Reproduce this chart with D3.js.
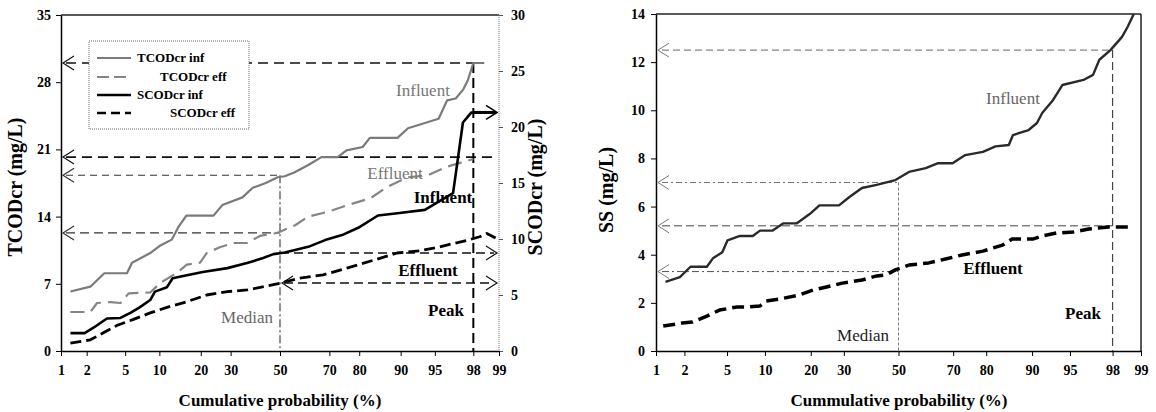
<!DOCTYPE html>
<html>
<head>
<meta charset="utf-8">
<script src="https://cdn.jsdelivr.net/npm/d3@7"></script>
<style>
  body { margin: 0; background: #fff; }
  text { font-family: "Liberation Serif", "Times New Roman", serif; }
  .tick text { font-size: 14px; font-weight: bold; }
</style>
</head>
<body>
<script>
// ---- data (cumulative probability in %, values in mg/L) ----
var probTicks = [1, 2, 5, 10, 20, 30, 50, 70, 80, 90, 95, 98, 99];
var tcodTicks = [0, 7, 14, 21, 28, 35];
var scodTicks = [0, 5, 10, 15, 20, 25, 30];
var ssTicks = [0, 2, 4, 6, 8, 10, 12, 14];

var tcodInfP = [1.3, 2.2, 3.1, 5.2, 5.8, 8.4, 10.2, 12.5, 14, 16, 24, 27, 34.5, 38.6, 44, 49, 52, 56, 62, 67, 73, 76, 81, 83, 89.4, 91.3, 95.4, 96.2, 96.9, 97.4, 97.7, 98.0, 98.5];
var tcodInfV = [6.2, 6.7, 8.1, 8.1, 9.2, 10.2, 11.0, 11.6, 12.9, 14.1, 14.1, 15.2, 16.0, 17.0, 17.5, 18.1, 18.2, 18.6, 19.4, 20.2, 20.2, 20.9, 21.25, 22.2, 22.2, 23.2, 24.2, 26.1, 26.3, 27.2, 28.2, 30, 30];

var tcodEffP = [1.3, 2.2, 2.6, 3.6, 4.5, 5.4, 8.4, 10.2, 12.1, 13.8, 16.1, 19.8, 21.8, 26.1, 30.9, 36.3, 41.7, 48.8, 56.4, 61.8, 69.5, 76.4, 83.1, 87.3, 91.3, 94.2, 96.2, 98.0];
var tcodEffV = [4.06, 4.06, 5.0, 5.1, 5.0, 6.0, 6.1, 7.1, 7.7, 8.2, 9.0, 9.2, 10.2, 10.8, 11.25, 11.25, 12.0, 12.3, 13.1, 14.0, 14.5, 15.2, 15.9, 17.1, 18.1, 18.3, 19.2, 20.0];

var scodInfP = [1.3, 1.9, 2.4, 3.3, 4.5, 5.6, 6.8, 8.4, 9.2, 11.5, 12.7, 15.2, 20.6, 28.8, 36.3, 42.9, 47.2, 52, 61.8, 68.4, 74.5, 79.7, 85.1, 89.4, 93.8, 95.7, 96.7, 97.4, 97.9, 98.6];
var scodInfV = [1.6, 1.6, 2.1, 2.9, 2.95, 3.4, 3.9, 4.55, 5.3, 5.7, 6.5, 6.7, 7.05, 7.4, 7.85, 8.3, 8.65, 8.8, 9.3, 9.9, 10.35, 11.0, 12.1, 12.3, 12.6, 13.5, 14.1, 20.4, 21.3, 21.3];

var scodEffP = [1.3, 2.2, 3.0, 4.2, 5.9, 8.4, 11.5, 16.1, 21.8, 28.8, 36.3, 44.4, 50, 58.3, 67.7, 76.1, 83.9, 89.3, 93.2, 95.5, 97.7, 98.3, 98.6, 98.9];
var scodEffV = [0.7, 1.0, 1.6, 2.3, 2.8, 3.4, 3.9, 4.4, 5.0, 5.3, 5.45, 5.8, 6.05, 6.5, 6.8, 7.4, 8.1, 8.75, 8.95, 9.3, 9.9, 10.2, 10.5, 10.1];

var ssInfP = [1.27, 1.8, 2.3, 3.3, 3.75, 4.55, 5.05, 6.4, 8.1, 9.2, 11.3, 13.4, 16.4, 19.8, 22.4, 28.4, 31.9, 36.3, 41.7, 48.8, 54, 60.3, 64.8, 69.8, 73.9, 79.1, 82.4, 85.5, 86.4, 89.4, 90.8, 91.6, 93.1, 94.2, 96.2, 96.9, 97.3, 97.9, 98.4, 98.6, 98.8];
var ssInfV = [2.87, 3.07, 3.5, 3.5, 3.85, 4.1, 4.6, 4.78, 4.78, 5.0, 5.0, 5.3, 5.3, 5.7, 6.05, 6.05, 6.4, 6.77, 6.9, 7.1, 7.44, 7.6, 7.8, 7.8, 8.14, 8.27, 8.5, 8.56, 8.97, 9.18, 9.47, 9.89, 10.43, 11.05, 11.26, 11.47, 12.1, 12.5, 13.05, 13.46, 14.0];

var ssEffP = [1.2, 1.9, 2.4, 3.3, 4.3, 6.1, 7.2, 9.2, 10.2, 12.7, 17.1, 20.6, 24.5, 29.5, 36.3, 41.7, 45.2, 48.8, 54, 61.4, 67.4, 72.9, 79.1, 84.1, 86.2, 90.1, 91.6, 93.5, 95.3, 96.6, 97.8, 98.7];
var ssEffV = [1.04, 1.16, 1.2, 1.45, 1.7, 1.83, 1.83, 1.87, 2.08, 2.16, 2.33, 2.53, 2.66, 2.82, 2.95, 3.12, 3.16, 3.37, 3.57, 3.66, 3.82, 3.99, 4.15, 4.4, 4.65, 4.65, 4.78, 4.9, 4.94, 5.07, 5.15, 5.15];

// median / peak reading values
var tcodMarks = [30, 20.2, 18.3, 12.3];   // peak inf, peak eff, median inf, median eff
var scodMarks = [21.3, 8.75, 6.07];       // peak inf, median inf, median eff
var ssMarks = [12.5, 7.0, 5.2, 3.3];      // peak inf, median inf, peak eff, median eff

// inverse normal cdf (Acklam)
function probit(p) {
  var a = [-39.69683028665376, 220.9460984245205, -275.9285104469687, 138.3577518672690, -30.66479806614716, 2.506628277459239];
  var b = [-54.47609879822406, 161.5858368580409, -155.6989798598866, 66.80131188771972, -13.28068155288572];
  var c = [-0.007784894002430293, -0.3223964580411365, -2.400758277161838, -2.549732539343734, 4.374664141464968, 2.938163982698783];
  var d = [0.007784695709041462, 0.3224671290700398, 2.445134137142996, 3.754408661907416];
  var q, r;
  if (p < 0.02425) {
    q = Math.sqrt(-2 * Math.log(p));
    return (((((c[0]*q+c[1])*q+c[2])*q+c[3])*q+c[4])*q+c[5]) / ((((d[0]*q+d[1])*q+d[2])*q+d[3])*q+1);
  }
  if (p > 1 - 0.02425) {
    q = Math.sqrt(-2 * Math.log(1 - p));
    return -(((((c[0]*q+c[1])*q+c[2])*q+c[3])*q+c[4])*q+c[5]) / ((((d[0]*q+d[1])*q+d[2])*q+d[3])*q+1);
  }
  q = p - 0.5; r = q * q;
  return (((((a[0]*r+a[1])*r+a[2])*r+a[3])*r+a[4])*r+a[5])*q / (((((b[0]*r+b[1])*r+b[2])*r+b[3])*r+b[4])*r+1);
}

var svg = d3.select("body").append("svg").attr("width", 1156).attr("height", 412);

function zip(P, V) { return P.map(function (p, i) { return [p, V[i]]; }); }

function label(x, y, txt, size, weight, fill, anchor) {
  return svg.append("text").attr("x", x).attr("y", y)
    .attr("text-anchor", anchor || "middle")
    .style("font-size", size + "px").style("font-weight", weight)
    .style("fill", fill).text(txt);
}

// little open arrow head "<" or ">" at (x,y)
function arrowHead(x, y, dir, color, w) {
  var len = 11, dy = 7;
  svg.append("path")
    .attr("d", "M" + (x + dir * len) + "," + (y - dy) + "L" + x + "," + y + "L" + (x + dir * len) + "," + (y + dy))
    .attr("fill", "none").attr("stroke", color).attr("stroke-width", w);
}

function hline(x1, x2, y, color, w, dash) {
  svg.append("line").attr("x1", x1).attr("x2", x2).attr("y1", y).attr("y2", y)
    .attr("stroke", color).attr("stroke-width", w).attr("stroke-dasharray", dash);
}
function vline(x, y1, y2, color, w, dash) {
  svg.append("line").attr("x1", x).attr("x2", x).attr("y1", y1).attr("y2", y2)
    .attr("stroke", color).attr("stroke-width", w).attr("stroke-dasharray", dash);
}

function xAxis(x, y0) {
  var g = svg.append("g").attr("transform", "translate(0," + y0 + ")")
    .call(d3.axisBottom(x).tickValues(probTicks.map(function (p) { return probit(p / 100); }))
      .tickFormat(function (d, i) { return probTicks[i]; }).tickSize(5).tickSizeOuter(0).tickPadding(9));
  g.select(".domain").attr("stroke", "#000").attr("stroke-width", 1.5);
  g.selectAll(".tick text").style("fill", "#000");
  return g;
}

function series(x, y, P, V, color, w, dash) {
  var line = d3.line().x(function (d) { return x(probit(d[0] / 100)); }).y(function (d) { return y(d[1]); });
  svg.append("path").datum(zip(P, V)).attr("d", line)
    .attr("fill", "none").attr("stroke", color).attr("stroke-width", w)
    .attr("stroke-dasharray", dash).attr("stroke-linejoin", "round");
}

// ================= left panel =================
var xL = d3.scaleLinear().domain([probit(0.01), probit(0.99)]).range([61, 499]);
var yT = d3.scaleLinear().domain([0, 35]).range([351, 15]);
var yS = d3.scaleLinear().domain([0, 30]).range([351, 15]);
var pL = function (p) { return xL(probit(p / 100)); };

// frame
hline(61, 499, 15, "#222", 1.5, null);
vline(499, 15, 351, "#777", 1, "1,1");

var gl = svg.append("g").attr("transform", "translate(61,0)")
  .call(d3.axisLeft(yT).tickValues(tcodTicks).tickSize(5).tickSizeOuter(0).tickPadding(5));
gl.select(".domain").attr("stroke", "#000").attr("stroke-width", 1.5);
var gr = svg.append("g").attr("transform", "translate(499,0)")
  .call(d3.axisRight(yS).tickValues(scodTicks).tickSize(4).tickSizeOuter(0).tickPadding(8));
gr.select(".domain").remove();
gr.selectAll(".tick line").attr("stroke", "#555");
xAxis(xL, 351);

// reference lines
hline(66, pL(98), yT(tcodMarks[0]), "#111", 1.6, "10,6");
arrowHead(63, yT(tcodMarks[0]), 1, "#111", 1.2);
hline(66, pL(98.8), yT(tcodMarks[1]), "#111", 1.6, "10,6");
arrowHead(63, yT(tcodMarks[1]), 1, "#111", 1.2);
hline(66, pL(50), yT(tcodMarks[2]), "#333", 1.1, "7,5");
arrowHead(63, yT(tcodMarks[2]), 1, "#333", 1.2);
hline(66, pL(50), yT(tcodMarks[3]), "#333", 1.1, "9,5");
arrowHead(63, yT(tcodMarks[3]), 1, "#333", 1.2);

hline(pL(98), 496, yS(scodMarks[0]), "#000", 3, null);
arrowHead(497, yS(scodMarks[0]), -1, "#000", 1.6);
hline(pL(50), 494, yS(scodMarks[1]), "#111", 1.3, "9,5");
arrowHead(497, yS(scodMarks[1]), -1, "#111", 1.2);
hline(pL(50) + 4, 494, yS(scodMarks[2]), "#111", 1.3, "9,5");
arrowHead(497, yS(scodMarks[2]), -1, "#111", 1.2);
arrowHead(pL(50) + 2, yS(scodMarks[2]), 1, "#111", 1.2);

vline(pL(50), yT(tcodMarks[2]), 351, "#444", 1.2, "8,3,2,3");
vline(pL(98), yT(tcodMarks[0]), 351, "#000", 2, "10,5");

// curves
series(xL, yT, tcodInfP, tcodInfV, "#7a7a7a", 2.2, null);
series(xL, yT, tcodEffP, tcodEffV, "#858585", 2.2, "14,7");
series(xL, yS, scodInfP, scodInfV, "#000", 2.6, null);
series(xL, yS, scodEffP, scodEffV, "#000", 2.8, "11,5");

// texts
label(423, 96, "Influent", 17, "normal", "#777");
label(395, 179, "Effluent", 17, "normal", "#777");
label(443, 203, "Influent", 17, "bold", "#000");
label(428, 276, "Effluent", 17, "bold", "#000");
label(247, 323, "Median", 17, "normal", "#666");
label(446, 316, "Peak", 17, "bold", "#000");

// legend
svg.append("rect").attr("x", 89).attr("y", 41).attr("width", 160).attr("height", 88)
  .attr("fill", "#fff").attr("stroke", "#666").attr("stroke-width", 1).attr("stroke-dasharray", "1,1");
var legendItems = [
  { name: "TCODcr inf", color: "#7a7a7a", w: 2, dash: null, tx: 137 },
  { name: "TCODcr eff", color: "#858585", w: 2, dash: "12,5", tx: 160 },
  { name: "SCODcr inf", color: "#000", w: 2.6, dash: null, tx: 137 },
  { name: "SCODcr eff", color: "#000", w: 2.6, dash: "9,5", tx: 170 }
];
var legendY = [58, 77, 95, 113];
legendItems.forEach(function (it, i) {
  hline(97, 131, legendY[i], it.color, it.w, it.dash);
  label(it.tx, legendY[i] + 4, it.name, 13, "bold", "#000", "start");
});

// axis titles
label(280, 406, "Cumulative probability (%)", 17, "bold", "#000");
label(0, 0, "TCODcr (mg/L)", 20, "bold", "#000").attr("transform", "translate(22,187) rotate(-90)");
label(0, 0, "SCODcr (mg/L)", 20, "bold", "#000").attr("transform", "translate(542,187) rotate(-90)");

// ================= right panel =================
var xR = d3.scaleLinear().domain([probit(0.01), probit(0.99)]).range([656, 1141]);
var ySS = d3.scaleLinear().domain([0, 14]).range([351, 14]);
var pR = function (p) { return xR(probit(p / 100)); };

hline(656, 1141, 14, "#222", 1.5, null);
vline(1141, 14, 351, "#222", 1.5, null);
var gs = svg.append("g").attr("transform", "translate(656,0)")
  .call(d3.axisLeft(ySS).tickValues(ssTicks).tickSize(5).tickSizeOuter(0).tickPadding(6));
gs.select(".domain").attr("stroke", "#000").attr("stroke-width", 1.5);
xAxis(xR, 351);

hline(662, pR(98), ySS(ssMarks[0]), "#666", 1, "7,4");
arrowHead(658, ySS(ssMarks[0]), 1, "#777", 1);
hline(662, pR(50), ySS(ssMarks[1]), "#777", 1, "6,3,2,3");
arrowHead(658, ySS(ssMarks[1]), 1, "#777", 1);
hline(662, pR(98), ySS(ssMarks[2]), "#444", 1, "8,4");
arrowHead(658, ySS(ssMarks[2]), 1, "#777", 1);
hline(662, pR(50), ySS(ssMarks[3]), "#555", 1, "7,3,2,3");
arrowHead(658, ySS(ssMarks[3]), 1, "#777", 1);
vline(pR(50), ySS(ssMarks[1]), 351, "#777", 1, "3,2");
vline(pR(98), ySS(ssMarks[0]), 351, "#444", 1.2, "8,4");

series(xR, ySS, ssInfP, ssInfV, "#2a2a2a", 2.4, null);
series(xR, ySS, ssEffP, ssEffV, "#000", 3.5, "12,6");

label(1013, 104, "Influent", 17, "normal", "#666");
label(993, 274, "Effluent", 17, "bold", "#000");
label(863, 341, "Median", 17, "normal", "#222");
label(1083, 319, "Peak", 17, "bold", "#000");

label(899, 406, "Cummulative probability (%)", 17, "bold", "#000");
label(0, 0, "SS (mg/L)", 20, "bold", "#000").attr("transform", "translate(613,190) rotate(-90)");
</script>
</body>
</html>
